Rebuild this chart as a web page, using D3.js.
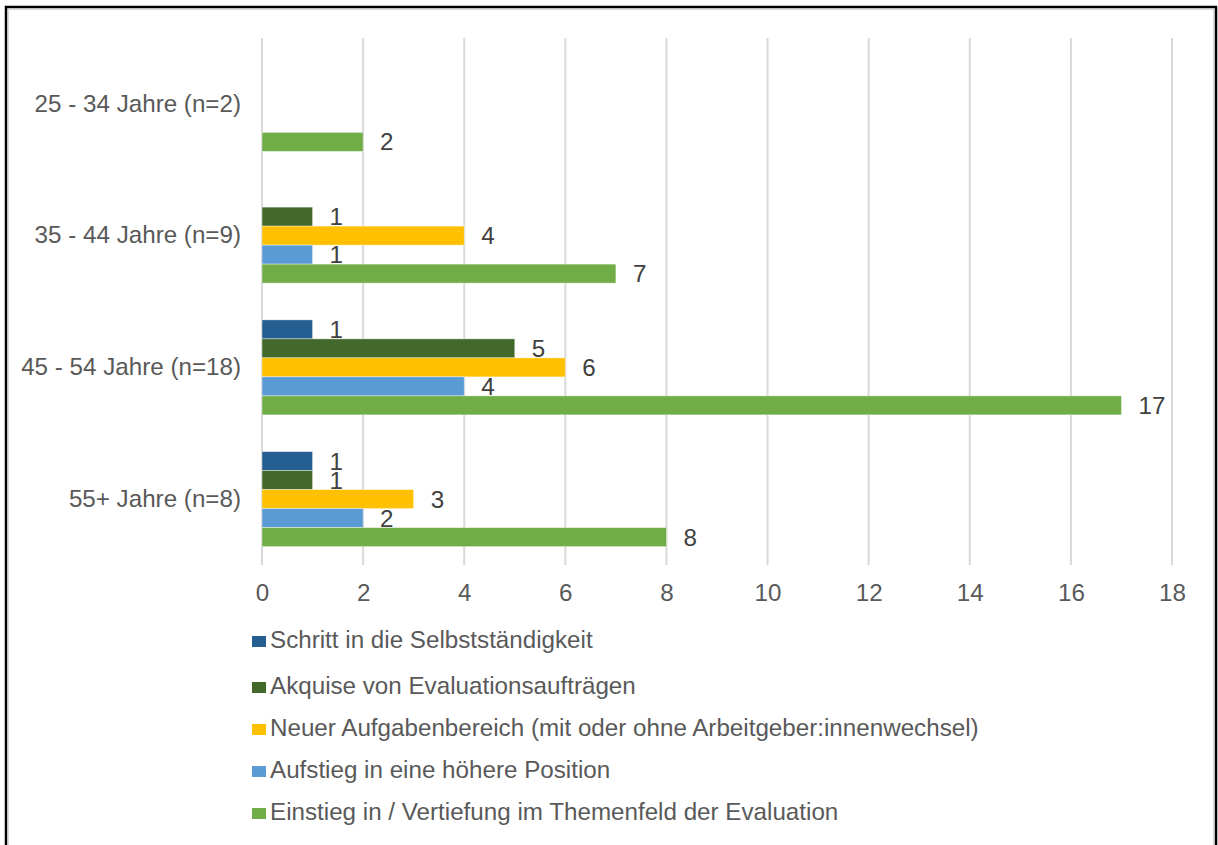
<!DOCTYPE html>
<html><head><meta charset="utf-8">
<script src="https://cdn.jsdelivr.net/npm/d3@7"></script>
<style>body{margin:0;background:#fff}svg{display:block}</style>
</head><body><svg id="c" width="1218" height="845"></svg>
<script>
const categories = ["25 - 34 Jahre (n=2)", "35 - 44 Jahre (n=9)", "45 - 54 Jahre (n=18)", "55+ Jahre (n=8)"];
const seriesNames = ["Schritt in die Selbstständigkeit", "Akquise von Evaluationsaufträgen", "Neuer Aufgabenbereich (mit oder ohne Arbeitgeber:innenwechsel)", "Aufstieg in eine höhere Position", "Einstieg in / Vertiefung im Themenfeld der Evaluation"];
const schritt   = [null, null, 1, 1];
const akquise   = [null, 1, 5, 1];
const neuer     = [null, 4, 6, 3];
const aufstieg  = [null, 1, 4, 2];
const einstieg  = [2, 7, 17, 8];
const seriesValues = [schritt, akquise, neuer, aufstieg, einstieg];
const colors = ["#255E91", "#43682B", "#FFC000", "#5B9BD5", "#70AD47"];
const xTicks = [0, 2, 4, 6, 8, 10, 12, 14, 16, 18];

const svg = d3.select("#c");
const font = "'Liberation Sans', Arial, sans-serif";
const fs = 24.2;

// frame
svg.append("rect").attr("x", 6).attr("y", 7).attr("width", 1210).attr("height", 845)
  .attr("fill", "none").attr("stroke", "#000").attr("stroke-width", 2.5);
svg.append("rect").attr("x", 8.5).attr("y", 9.5).attr("width", 1205).attr("height", 840)
  .attr("fill", "none").attr("stroke", "#d9d9d9").attr("stroke-width", 1);

const x = d3.scaleLinear().domain([0, 18]).range([262, 1172]);
const y = d3.scaleBand().domain(categories).range([38, 565]).paddingInner(0).paddingOuter(0);
const inner = d3.scaleBand().domain(d3.range(5)).range([0, 95]);
const off = (y.bandwidth() - 95) / 2;

// gridlines
svg.append("g").selectAll("line").data(xTicks).join("line")
  .attr("x1", d => x(d)).attr("x2", d => x(d)).attr("y1", 38).attr("y2", 565)
  .attr("stroke", "#d9d9d9").attr("stroke-width", 2);

// x axis labels
const xAxis = d3.axisBottom(x).tickValues(xTicks).tickSize(0).tickPadding(0);
const gx = svg.append("g").attr("transform", "translate(0,565)").call(xAxis);
gx.select(".domain").remove();
gx.selectAll("text").attr("font-family", font).attr("font-size", fs).attr("fill", "#595959").attr("dy", "0").attr("y", 36);

// y axis labels
const yAxis = d3.axisLeft(y).tickSize(0).tickPadding(0);
const gy = svg.append("g").attr("transform", "translate(241,0)").call(yAxis);
gy.select(".domain").remove();
gy.selectAll("text").attr("font-family", font).attr("font-size", fs).attr("fill", "#595959");

// bars
seriesValues.forEach((vals, si) => {
  const data = categories.map((c, i) => ({c, v: vals[i]})).filter(d => d.v != null);
  const g = svg.append("g");
  g.selectAll("rect").data(data).join("rect")
    .attr("x", x(0)).attr("y", d => y(d.c) + off + inner(si))
    .attr("width", d => x(d.v) - x(0)).attr("height", inner.bandwidth())
    .attr("fill", colors[si]).attr("stroke", "#fff").attr("stroke-opacity", 0.5).attr("stroke-width", 0.75);
  g.selectAll("text").data(data).join("text")
    .attr("x", d => x(d.v) + 17).attr("y", d => y(d.c) + off + inner(si) + inner.bandwidth() / 2)
    .attr("dy", "0.35em").attr("font-family", font).attr("font-size", fs).attr("fill", "#404040")
    .text(d => d.v);
});

// legend
const legY = [640, 686, 728, 770, 812];
const leg = svg.append("g").selectAll("g").data(seriesNames).join("g")
  .attr("transform", (d, i) => `translate(252,${legY[i]})`);
leg.append("rect").attr("x", 0).attr("y", -4).attr("width", 14).attr("height", 11).attr("fill", (d, i) => colors[i]);
leg.append("text").attr("x", 18).attr("y", 0).attr("dy", "0.35em").attr("font-family", font)
  .attr("font-size", fs).attr("fill", "#595959").text(d => d);
</script></body></html>
